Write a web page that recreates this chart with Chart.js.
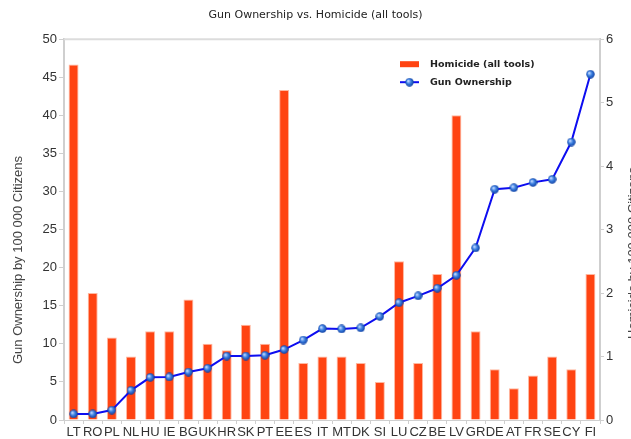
<!DOCTYPE html>
<html>
<head>
<meta charset="utf-8">
<script src="https://cdn.jsdelivr.net/npm/chart.js@4/dist/chart.umd.min.js"></script>
<style>
  html, body { margin: 0; padding: 0; background: #fff; }
  #wrap { width: 631px; height: 439px; }
</style>
</head>
<body>
<div id="wrap"><canvas id="chart" width="631" height="439"></canvas></div>
<script>
// data
const countries = ['LT', 'RO', 'PL', 'NL', 'HU', 'IE', 'BG', 'UK', 'HR', 'SK', 'PT', 'EE', 'ES', 'IT',
  'MT', 'DK', 'SI', 'LU', 'CZ', 'BE', 'LV', 'GR', 'DE', 'AT', 'FR', 'SE', 'CY', 'FI'];
const homicide = [5.6, 2.0, 1.3, 1.0, 1.4, 1.4, 1.9, 1.2, 1.1, 1.5, 1.2, 5.2, 0.9, 1.0,
  1.0, 0.9, 0.6, 2.5, 0.9, 2.3, 4.8, 1.4, 0.8, 0.5, 0.7, 1.0, 0.8, 2.3];
const gunOwnership = [0.8, 0.8, 1.3, 3.9, 5.6, 5.65, 6.3, 6.8, 8.4, 8.4, 8.5, 9.25, 10.5, 12.0,
  11.95, 12.1, 13.6, 15.4, 16.3, 17.3, 19.0, 22.6, 30.3, 30.5, 31.2, 31.6, 36.5, 45.4];
const leftTitle = 'Gun Ownership by 100 000 Citizens';
const rightTitle = 'Homicide by 100 000 Citizens';

const barColor = '#ff4412';
const lineColor = '#0d0df0';

// little shaded ball used as point marker
function makeBall(size) {
  const c = document.createElement('canvas');
  c.width = size; c.height = size;
  const g = c.getContext('2d');
  const r = size / 2;
  const grad = g.createRadialGradient(r * 0.7, r * 0.7, 0.5, r, r, r);
  grad.addColorStop(0, '#bcd6ff');
  grad.addColorStop(0.45, '#3b7fe0');
  grad.addColorStop(1, '#0b3a9e');
  g.fillStyle = grad;
  g.beginPath();
  g.arc(r, r, r - 0.3, 0, Math.PI * 2);
  g.fill();
  return c;
}
const ball = makeBall(9);

const tickFont = { family: 'Liberation Sans', size: 13 };

// extra drawing: top frame line, axis titles, legend inside the plot
const extras = {
  id: 'extras',
  afterDraw(chart) {
    const ctx = chart.ctx;
    const ca = chart.chartArea;
    ctx.save();
    ctx.strokeStyle = '#dcdcdc';
    ctx.lineWidth = 2;
    ctx.beginPath();
    ctx.moveTo(ca.left, ca.top);
    ctx.lineTo(ca.right, ca.top);
    ctx.stroke();

    ctx.fillStyle = '#444';
    ctx.font = '13px "Liberation Sans"';
    ctx.textAlign = 'center';
    ctx.textBaseline = 'middle';
    ctx.save();
    ctx.translate(18, 260);
    ctx.rotate(-Math.PI / 2);
    ctx.fillText(leftTitle, 0, 0);
    ctx.restore();
    ctx.save();
    ctx.translate(633, 253);
    ctx.rotate(-Math.PI / 2);
    ctx.fillText(rightTitle, 0, 0);
    ctx.restore();

    // legend
    const lx = ca.left + 336, ly = ca.top + 25;
    ctx.fillStyle = barColor;
    ctx.fillRect(lx, ly - 3, 19, 6);
    ctx.strokeStyle = lineColor;
    ctx.lineWidth = 2;
    ctx.beginPath();
    ctx.moveTo(lx, ly + 18);
    ctx.lineTo(lx + 19, ly + 18);
    ctx.stroke();
    ctx.drawImage(ball, lx + 5, ly + 13.5);
    ctx.fillStyle = '#222';
    ctx.font = 'bold 9.5px "DejaVu Sans"';
    ctx.textAlign = 'left';
    ctx.fillText('Homicide (all tools)', lx + 30, ly);
    ctx.fillText('Gun Ownership', lx + 30, ly + 18);
    ctx.restore();
  }
};

new Chart(document.getElementById('chart'), {
  data: {
    labels: countries,
    datasets: [
      {
        type: 'line',
        label: 'Gun Ownership',
        data: gunOwnership,
        yAxisID: 'y',
        borderColor: lineColor,
        borderWidth: 2,
        pointStyle: ball,
        pointRadius: 4.5,
        tension: 0,
        order: 0
      },
      {
        type: 'bar',
        label: 'Homicide (all tools)',
        data: homicide,
        yAxisID: 'y1',
        backgroundColor: barColor,
        borderColor: '#ffb8a0',
        borderWidth: 1,
        categoryPercentage: 1,
        barPercentage: 0.52,
        order: 1
      }
    ]
  },
  options: {
    responsive: false,
    animation: false,
    events: [],
    layout: { padding: 0 },
    plugins: {
      legend: { display: false },
      tooltip: { enabled: false },
      title: {
        display: true,
        text: 'Gun Ownership vs. Homicide (all tools)',
        color: '#222',
        font: { family: 'DejaVu Sans', size: 11, weight: 'normal' },
        padding: { top: 9, bottom: 17 }
      }
    },
    scales: {
      x: {
        ticks: { color: '#333', font: tickFont, autoSkip: false, maxRotation: 0, padding: 1 },
        grid: { drawOnChartArea: false, tickLength: 4, color: '#cfcfcf', offset: true },
        border: { color: '#cfcfcf', width: 1 },
        afterFit(s) { s.height = 19; }
      },
      y: {
        position: 'left',
        min: 0, max: 50,
        ticks: { stepSize: 5, color: '#333', font: tickFont, padding: 2 },
        grid: { drawOnChartArea: false, tickLength: 5, color: '#cfcfcf' },
        border: { color: '#cfcfcf', width: 2 },
        afterFit(s) { s.width = 64; }
      },
      y1: {
        position: 'right',
        min: 0, max: 6,
        ticks: { stepSize: 1, color: '#333', font: tickFont, padding: 2 },
        grid: { drawOnChartArea: false, tickLength: 4, color: '#cfcfcf' },
        border: { color: '#cfcfcf', width: 2 },
        afterFit(s) { s.width = 31; }
      }
    }
  },
  plugins: [extras]
});
</script>
</body>
</html>
